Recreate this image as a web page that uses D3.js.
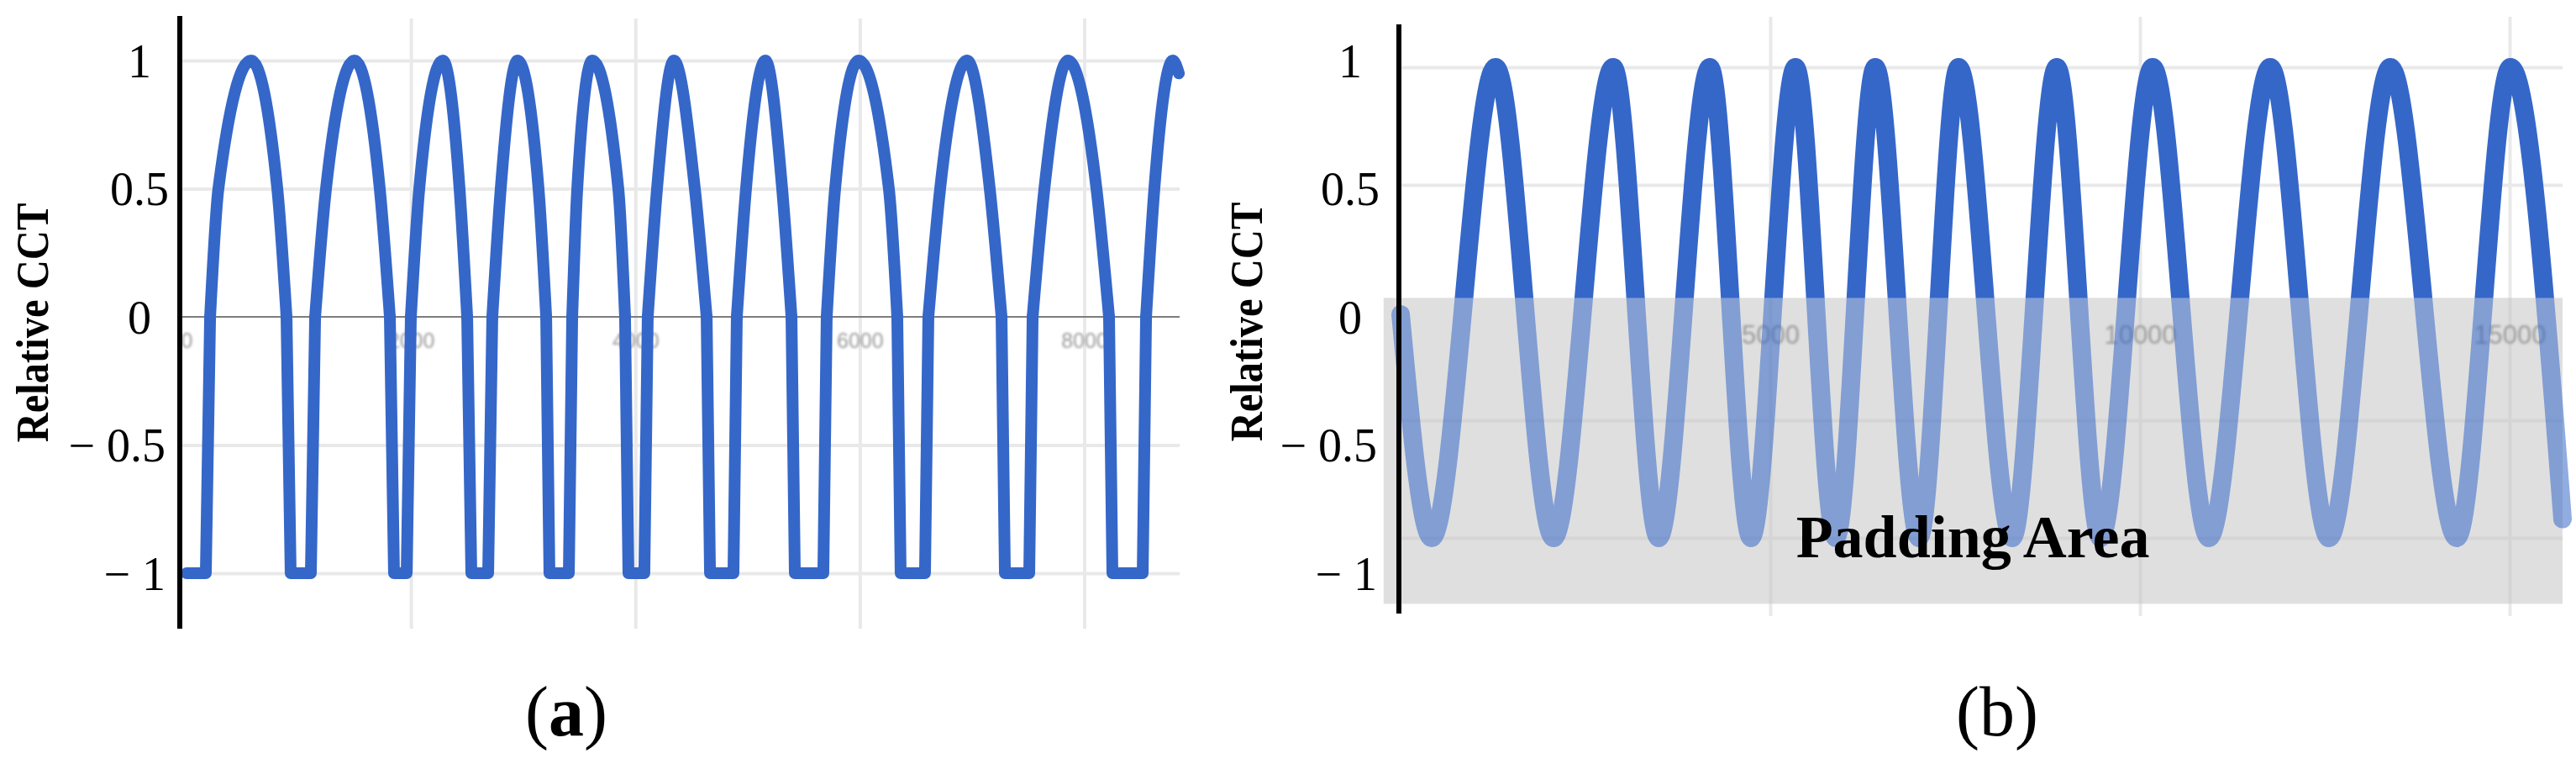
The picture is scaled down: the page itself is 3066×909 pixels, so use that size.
<!DOCTYPE html>
<meta charset="utf-8">
<style>
    body { margin: 0; background: #fff; }
    text { font-family: "Liberation Serif", "Times New Roman", serif; fill: #000; }
    .grid line { stroke: #e9e9e9; stroke-width: 4px; }
    .grid path { stroke-width: 0; }
    .xlab text { font-family: "Liberation Sans", Arial, sans-serif; fill: #9a9a9a; }
    .xlab path, .ylab path { stroke-width: 0; }
    .ylab text { font-size: 56px; }
    .cct { fill: none; stroke: #3567c9; stroke-linejoin: round; stroke-linecap: round; }
</style>
<body>
<svg width="3066" height="909"></svg>

<script src="https://d3js.org/d3.v7.min.js"></script>
<script>

    // tick values and labels
    var yTicks = [1, 0.5, 0, -0.5, -1];
    var yTickLabels = ["1", "0.5", "0", "\u2212 0.5", "\u2212 1"];
    var xTicksA = [0, 2000, 4000, 6000, 8000];
    var xTicksB = [5000, 10000, 15000];

    var cctA = [
        [0, -1],
        [172, -1], [210, 0], [284, 0.5], [576, 1], [809, 0.5], [891, 0], [928, -1],
        [1108, -1], [1146, 0], [1243, 0.5], [1497, 1], [1722, 0.5], [1812, 0], [1849, -1],
        [1962, -1], [1999, 0], [2074, 0.5], [2284, 1], [2433, 0.5], [2501, 0], [2538, -1],
        [2688, -1], [2725, 0], [2800, 0.5], [2950, 1], [3137, 0.5], [3205, 0], [3234, -1],
        [3407, -1], [3437, 0], [3482, 0.5], [3616, 1], [3848, 0.5], [3908, 0], [3938, -1],
        [4080, -1], [4110, 0], [4193, 0.5], [4343, 1], [4530, 0.5], [4635, 0], [4665, -1],
        [4874, -1], [4904, 0], [4986, 0.5], [5159, 1], [5308, 0.5], [5391, 0], [5421, -1],
        [5675, -1], [5705, 0], [5780, 0.5], [5990, 1], [6259, 0.5], [6334, 0], [6364, -1],
        [6581, -1], [6611, 0], [6716, 0.5], [6956, 1], [7158, 0.5], [7263, 0], [7293, -1],
        [7510, -1], [7540, 0], [7645, 0.5], [7854, 1], [8109, 0.5], [8221, 0], [8251, -1],
        [8521, -1], [8551, 0], [8625, 0.5], [8790, 1], [8843, 0.95]
    ];

    // (b) padded series: [sample, value]
    var cctB = [
        [0, -0.05], [420, -1], [1284, 1], [2068, -1], [2875, 1], [3489, -1],
        [4182, 1], [4739, -1], [5341, 1], [5886, -1], [6420, 1], [7012, -1],
        [7546, 1], [8273, -1], [8875, 1], [9466, -1], [10171, 1], [10932, -1],
        [11762, 1], [12557, -1], [13387, 1], [14285, -1], [15012, 1], [15716, -0.92]
    ];

    var svg = d3.select("svg");

    var defs = svg.append("defs");
    defs.append("filter").attr("id", "soft")
        .append("feGaussianBlur").attr("stdDeviation", 1.6);

    // label scale shared by both panels (the figure uses the same label positions)
    var yLabel = d3.scaleLinear().domain([-1, 1]).range([682, 72]);

    // ---------- panel (a) ----------
    var xa = d3.scaleLinear().domain([-60, 8850]).range([214, 1404]);
    var ya = d3.scaleLinear().domain([-1, 1]).range([682, 72]);
    var aTop = 22, aBottom = 748;

    var ga = svg.append("g");

    ga.append("g")
        .attr("class", "grid")
        .attr("transform", "translate(214,0)")
        .call(d3.axisLeft(ya)
            .tickValues([1, 0.5, -0.5, -1])
            .tickSize(-(1404 - 214))
            .tickFormat(""));

    ga.append("g")
        .attr("class", "grid")
        .attr("transform", "translate(0," + aBottom + ")")
        .call(d3.axisBottom(xa)
            .tickValues(xTicksA.slice(1))
            .tickSize(-(aBottom - aTop))
            .tickFormat(""));

    // zero baseline
    ga.append("line")
        .attr("x1", 214).attr("x2", 1404)
        .attr("y1", ya(0)).attr("y2", ya(0))
        .style("stroke", "#7d7d7d")
        .style("stroke-width", 2);

    var xlabA = ga.append("g")
        .attr("class", "xlab")
        .attr("transform", "translate(0,390)")
        .attr("filter", "url(#soft)")
        .call(d3.axisBottom(xa)
            .tickValues(xTicksA)
            .tickSize(0)
            .tickPadding(6)
            .tickFormat(d3.format("d")));
    xlabA.selectAll("text").style("font-size", "25px");

    // arcs above zero are smooth, the night part below zero is straight
    var lineAUp = d3.line()
        .defined(function (d) { return d[1] >= 0; })
        .x(function (d) { return xa(d[0]); })
        .y(function (d) { return ya(d[1]); })
        .curve(d3.curveMonotoneX);

    var lineALow = d3.line()
        .defined(function (d) { return d[1] <= 0; })
        .x(function (d) { return xa(d[0]); })
        .y(function (d) { return ya(d[1]); });

    ga.append("path")
        .datum(cctA)
        .attr("class", "cct")
        .attr("d", lineALow)
        .style("stroke-width", 14);

    ga.append("path")
        .datum(cctA)
        .attr("class", "cct")
        .attr("d", lineAUp)
        .style("stroke-width", 14);

    ga.append("line")
        .attr("x1", 214).attr("x2", 214)
        .attr("y1", 19).attr("y2", aBottom)
        .style("stroke", "#000")
        .style("stroke-width", 6);

    var ylabA = ga.append("g")
        .attr("class", "ylab")
        .attr("transform", "translate(214,0)")
        .call(d3.axisLeft(yLabel)
            .tickValues(yTicks)
            .tickSize(0)
            .tickFormat(function (d, i) { return yTickLabels[i]; }));
    ylabA.selectAll(".tick line").remove();
    ylabA.selectAll("text")
        .attr("text-anchor", function (d) { return d < 0 ? "end" : "middle"; })
        .attr("x", function (d) { return d < 0 ? -17 : -48; })
        .attr("dy", "0.34em");

    ga.append("text")
        .attr("transform", "translate(39,384) rotate(-90) scale(0.9,1)")
        .attr("text-anchor", "middle")
        .attr("dy", "0.34em")
        .style("font-size", "54px")
        .style("font-weight", "bold")
        .text("Relative CCT");

    var capA = ga.append("text")
        .attr("x", 674).attr("y", 875)
        .attr("text-anchor", "middle")
        .style("font-size", "84px");
    capA.append("tspan").text("(");
    capA.append("tspan").style("font-weight", "bold").text("a");
    capA.append("tspan").text(")");

    // ---------- panel (b) ----------
    var xb = d3.scaleLinear().domain([-23, 15716]).range([1665, 3050]);
    var yb = d3.scaleLinear().domain([-1, 1]).range([640, 80]);
    var bTop = 20, bBottom = 733;
    var padTop = 0.02, padBottom = -1.28;

    var gb = svg.append("g");

    gb.append("g")
        .attr("class", "grid")
        .attr("transform", "translate(1665,0)")
        .call(d3.axisLeft(yb)
            .tickValues([1, 0.5, -0.5, -1])
            .tickSize(-(3050 - 1665))
            .tickFormat(""));

    gb.append("g")
        .attr("class", "grid")
        .attr("transform", "translate(0," + bBottom + ")")
        .call(d3.axisBottom(xb)
            .tickValues(xTicksB)
            .tickSize(-(bBottom - bTop))
            .tickFormat(""));

    // padding area
    gb.append("rect")
        .attr("x", xb(-230))
        .attr("y", yb(padTop))
        .attr("width", xb(15716) - xb(-230))
        .attr("height", yb(padBottom) - yb(padTop))
        .style("fill", "#c4c4c4")
        .style("opacity", 0.55);

    var xlabB = gb.append("g")
        .attr("class", "xlab")
        .attr("transform", "translate(0,381)")
        .attr("filter", "url(#soft)")
        .call(d3.axisBottom(xb)
            .tickValues(xTicksB)
            .tickSize(0)
            .tickPadding(6)
            .tickFormat(d3.format("d")));
    xlabB.selectAll("text").style("font-size", "31px");

    defs.append("clipPath").attr("id", "clipUp")
        .append("rect")
        .attr("x", 1600).attr("y", 0)
        .attr("width", 1466).attr("height", yb(padTop));
    defs.append("clipPath").attr("id", "clipDown")
        .append("rect")
        .attr("x", 1600).attr("y", yb(padTop))
        .attr("width", 1466).attr("height", 909 - yb(padTop));

    var lineB = d3.line()
        .x(function (d) { return xb(d[0]); })
        .y(function (d) { return yb(d[1]); })
        .curve(d3.curveMonotoneX);

    gb.append("path")
        .datum(cctB)
        .attr("class", "cct")
        .attr("clip-path", "url(#clipUp)")
        .attr("d", lineB)
        .style("stroke-width", 22);

    gb.append("path")
        .datum(cctB)
        .attr("class", "cct")
        .attr("clip-path", "url(#clipDown)")
        .attr("d", lineB)
        .style("stroke-width", 22)
        .style("opacity", 0.55);

    gb.append("line")
        .attr("x1", 1665).attr("x2", 1665)
        .attr("y1", 29).attr("y2", 730)
        .style("stroke", "#000")
        .style("stroke-width", 6);

    var ylabB = gb.append("g")
        .attr("class", "ylab")
        .attr("transform", "translate(1665,0)")
        .call(d3.axisLeft(yLabel)
            .tickValues(yTicks)
            .tickSize(0)
            .tickFormat(function (d, i) { return yTickLabels[i]; }));
    ylabB.selectAll(".tick line").remove();
    ylabB.selectAll("text")
        .attr("text-anchor", function (d) { return d < 0 ? "end" : "middle"; })
        .attr("x", function (d) { return d < 0 ? -26 : -58; })
        .attr("dy", "0.34em");

    gb.append("text")
        .attr("transform", "translate(1484,383) rotate(-90) scale(0.9,1)")
        .attr("text-anchor", "middle")
        .attr("dy", "0.34em")
        .style("font-size", "54px")
        .style("font-weight", "bold")
        .text("Relative CCT");

    gb.append("text")
        .attr("x", 2348).attr("y", 663)
        .attr("text-anchor", "middle")
        .style("font-size", "72px")
        .style("font-weight", "bold")
        .text("Padding Area");

    var capB = gb.append("text")
        .attr("x", 2377).attr("y", 875)
        .attr("text-anchor", "middle")
        .style("font-size", "84px");
    capB.append("tspan").text("(");
    capB.append("tspan").text("b");
    capB.append("tspan").text(")");

</script>
</body>
